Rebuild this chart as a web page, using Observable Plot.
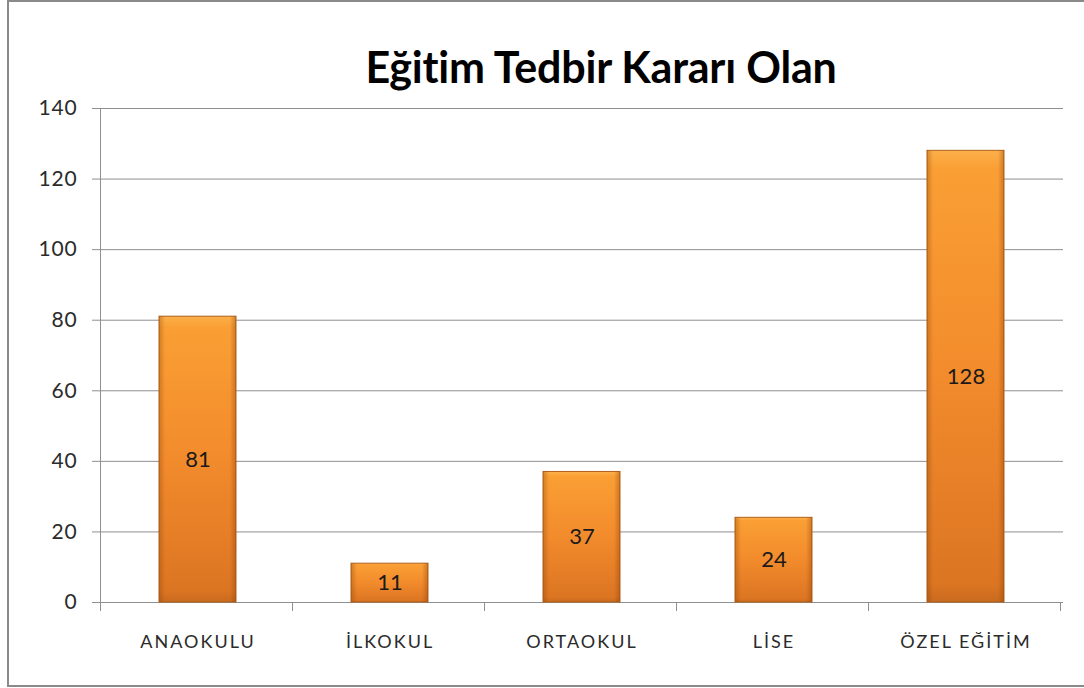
<!DOCTYPE html>
<html>
<head>
<meta charset="utf-8">
<script src="https://cdn.jsdelivr.net/npm/d3@7"></script>
<script src="https://cdn.jsdelivr.net/npm/@observablehq/plot@0.6"></script>
<style>
  body { margin: 0; background: #fff; }
  #wrap { position: relative; width: 1084px; height: 688px; overflow: hidden; font-family: Lato, "Open Sans", sans-serif; background: #fff; }
  #frame { position: absolute; left: 7px; top: 0; width: 1110px; height: 687px; border: 2px solid #8a8a8a; box-sizing: border-box; }
  #title { position: absolute; left: 601px; top: 45px; transform: translateX(-50%); white-space: nowrap; font-weight: 700; font-size: 43px; line-height: 1; color: #000; letter-spacing: -0.2px; }
  #chart { position: absolute; left: 0; top: 100px; }
</style>
</head>
<body>
<div id="wrap">
  <div id="frame"></div>
  <div id="title">Eğitim Tedbir Kararı Olan</div>
  <div id="chart"></div>
</div>
<script>
const categories = ["ANAOKULU", "İLKOKUL", "ORTAOKUL", "LİSE", "ÖZEL EĞİTİM"];
const values = [81, 11, 37, 24, 128];
const yTicks = [0, 20, 40, 60, 80, 100, 120, 140];

const data = categories.map((c, i) => ({ category: c, value: values[i] }));

const gray = "#8f8f8f";

// boundary ticks between categories (Excel-style category axis ticks)
function boundaryTicks(index, scales, values, dims) {
  const x = scales.x;
  const step = x.step ? x.step() : (dims.width - dims.marginLeft - dims.marginRight) / categories.length;
  const start = x.range ? x.range()[0] : dims.marginLeft;
  const y0 = dims.height - dims.marginBottom;
  const g = document.createElementNS("http://www.w3.org/2000/svg", "g");
  for (let i = 0; i <= categories.length; i++) {
    const line = document.createElementNS("http://www.w3.org/2000/svg", "line");
    const px = Math.round(start + i * step) + 0.5;
    line.setAttribute("x1", px); line.setAttribute("x2", px);
    line.setAttribute("y1", y0); line.setAttribute("y2", y0 + 9);
    line.setAttribute("stroke", gray);
    g.appendChild(line);
  }
  return g;
}

const plot = Plot.plot({
  width: 1084,
  height: 588,
  marginLeft: 100,
  marginRight: 21,
  marginTop: 8,
  marginBottom: 86,
  style: { fontFamily: "Lato, 'Open Sans', sans-serif", background: "transparent", overflow: "visible" },
  x: { domain: categories, paddingInner: 0.6, paddingOuter: 0.3, label: null },
  y: { domain: [0, 140], label: null },
  marks: [
    Plot.gridY(yTicks, { stroke: gray, strokeOpacity: 1 }),
    Plot.axisY(yTicks, { tickSize: 8, tickPadding: 15, stroke: gray, fontSize: 21, fill: "#2b2b2b", label: null }),
    Plot.axisX({ tickSize: 0, tickPadding: 33, fontSize: 18, fill: "#2b2b2b", label: null }),
    Plot.frame({ anchor: "left", stroke: gray }),
    Plot.ruleY([0], { stroke: gray }),
    boundaryTicks,
    Plot.barY(data, { x: "category", y: "value", fill: "url(#barV)", stroke: "#b0601c", strokeWidth: 1 }),
    Plot.barY(data, { x: "category", y: "value", fill: "url(#barH)" }),
    Plot.text(data, { x: "category", y: d => d.value / 2, text: "value", fontSize: 22, fill: "#1a1a1a" })
  ]
});

// gradients for the bevelled orange bars
const defs = d3.select(plot).insert("defs", ":first-child");
const gv = defs.append("linearGradient").attr("id", "barV").attr("x1", 0).attr("y1", 0).attr("x2", 0).attr("y2", 1);
gv.append("stop").attr("offset", "0%").attr("stop-color", "#fcb04a");
gv.append("stop").attr("offset", "4%").attr("stop-color", "#fa9f34");
gv.append("stop").attr("offset", "50%").attr("stop-color", "#f28b2c");
gv.append("stop").attr("offset", "96%").attr("stop-color", "#dc7522");
gv.append("stop").attr("offset", "100%").attr("stop-color", "#c96a1e");
const gh = defs.append("linearGradient").attr("id", "barH").attr("x1", 0).attr("y1", 0).attr("x2", 1).attr("y2", 0);
gh.append("stop").attr("offset", "0%").attr("stop-color", "#8a3f08").attr("stop-opacity", 0.35);
gh.append("stop").attr("offset", "8%").attr("stop-color", "#8a3f08").attr("stop-opacity", 0);
gh.append("stop").attr("offset", "92%").attr("stop-color", "#8a3f08").attr("stop-opacity", 0);
gh.append("stop").attr("offset", "100%").attr("stop-color", "#8a3f08").attr("stop-opacity", 0.4);

d3.select(plot).selectAll("[aria-label='x-axis tick label'] text").style("letter-spacing", "2px");
d3.select(plot).selectAll("[aria-label='y-axis tick label'] text").style("letter-spacing", "0.8px");

document.getElementById("chart").appendChild(plot);
</script>
</body>
</html>
